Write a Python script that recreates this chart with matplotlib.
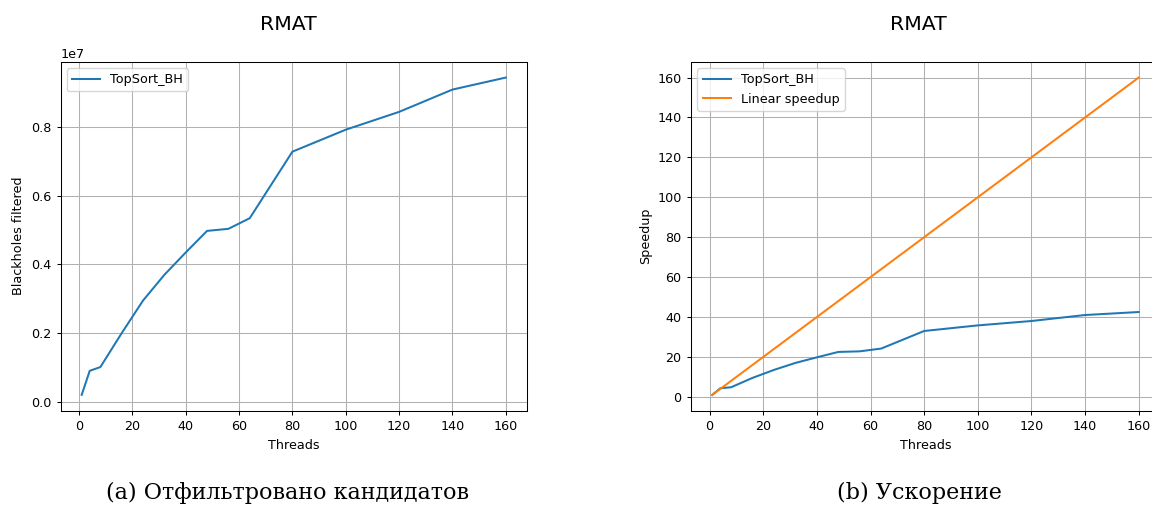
import matplotlib
matplotlib.use("Agg")
import matplotlib.pyplot as plt

threads = [1, 4, 8, 16, 24, 32, 40, 48, 56, 64, 80, 100, 120, 140, 160]
blackholes = [0.20e6, 0.90e6, 1.01e6, 2.0e6, 2.95e6, 3.70e6, 4.35e6, 4.98e6,
              5.04e6, 5.35e6, 7.29e6, 7.93e6, 8.45e6, 9.10e6, 9.45e6]
speedup = [1.0, 4.3, 4.8, 9.5, 13.5, 17.0, 19.8, 22.5, 22.8, 24.2,
           33.0, 35.8, 38.0, 41.0, 42.5]
linear = [1, 4, 8, 16, 24, 32, 40, 48, 56, 64, 80, 100, 120, 140, 160]
xticks = [0, 20, 40, 60, 80, 100, 120, 140, 160]

title_text = "RMAT"
caption_a = "(a) Отфильтровано кандидатов"
caption_b = "(b) Ускорение"

FS = 9.2
plt.rcParams.update({
    "font.size": FS,
    "axes.linewidth": 0.75,
    "xtick.major.size": 3.2,
    "ytick.major.size": 3.2,
    "xtick.major.width": 0.75,
    "ytick.major.width": 0.75,
    "grid.color": "#b0b0b0",
    "grid.linewidth": 0.75,
    "lines.linewidth": 1.45,
    "legend.fontsize": FS,
    "legend.handlelength": 2.2,
})

W, H = 1152, 509
fig = plt.figure(figsize=(W / 100, H / 100), dpi=100)

ax_h = 349 / H
ax_b = (H - 410.7) / H
ax1 = fig.add_axes([60.5 / W, ax_b, 466.5 / W, ax_h])
ax2 = fig.add_axes([691.0 / W, ax_b, 469.0 / W, ax_h])

ax1.plot(threads, blackholes, color="#1f77b4", label="TopSort_BH")
ax1.set_xlabel("Threads")
ax1.set_ylabel("Blackholes filtered")
ax1.grid(True)
ax1.set_xticks(xticks)
ax1.ticklabel_format(axis="y", style="sci", scilimits=(7, 7))
ax1.legend(loc="upper left")

ax2.plot(threads, speedup, color="#1f77b4", label="TopSort_BH")
ax2.plot(threads, linear, color="#ff7f0e", label="Linear speedup")
ax2.set_xlabel("Threads")
ax2.set_ylabel("Speedup")
ax2.grid(True)
ax2.set_xticks(xticks)
ax2.set_yticks(xticks)
ax2.legend(loc="upper left")

fig.text(288 / W, 1 - 25 / H, title_text, fontsize=14.7, ha="center", va="center")
fig.text(918.8 / W, 1 - 25 / H, title_text, fontsize=14.7, ha="center", va="center")

serif = ["DejaVu Serif", "Liberation Serif"]
fig.text(288 / W, 1 - 493 / H, caption_a, fontsize=16, ha="center", va="center",
         family=serif, fontweight="light")
fig.text(919.5 / W, 1 - 493 / H, caption_b, fontsize=16, ha="center", va="center",
         family=serif, fontweight="light")

fig.savefig("out.png", dpi=100)
